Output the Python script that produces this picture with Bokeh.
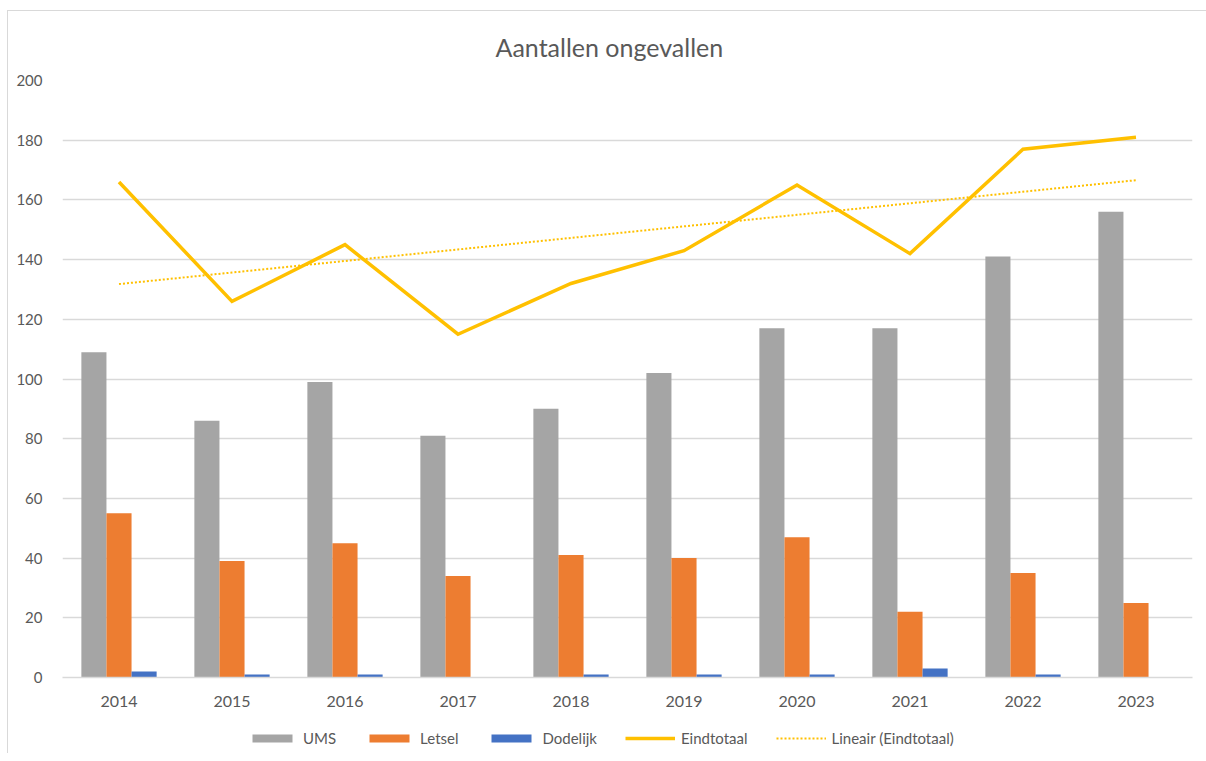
import numpy as np
from bokeh.plotting import figure
from bokeh.layouts import column
from bokeh.models import ColumnDataSource, Legend, LegendItem, FixedTicker, Range1d
from bokeh.transform import dodge
from bokeh.embed import file_html
from bokeh.resources import INLINE

years = ["2014", "2015", "2016", "2017", "2018", "2019", "2020", "2021", "2022", "2023"]
ums = [109, 86, 99, 81, 90, 102, 117, 117, 141, 156]
letsel = [55, 39, 45, 34, 41, 40, 47, 22, 35, 25]
dodelijk = [2, 1, 1, 0, 1, 1, 1, 3, 1, 0]
eindtotaal = [166, 126, 145, 115, 132, 143, 165, 142, 177, 181]
y_ticks = [0, 20, 40, 60, 80, 100, 120, 140, 160, 180, 200]
series_names = ["UMS", "Letsel", "Dodelijk", "Eindtotaal", "Lineair (Eindtotaal)"]

# linear trend of Eindtotaal (least squares, as Excel's "Lineair")
xi = np.arange(1, len(years) + 1)
slope, intercept = np.polyfit(xi, eindtotaal, 1)
trend = list(slope * xi + intercept)

src = ColumnDataSource(dict(year=years, ums=ums, letsel=letsel, dodelijk=dodelijk,
                            tot=eindtotaal, trend=trend))

FONT = "Lato"
TXT = "#595959"
C_UMS, C_LET, C_DOD, C_TOT = "#A5A5A5", "#ED7D31", "#4472C4", "#FFC000"

p = figure(x_range=years, y_range=Range1d(0, 200), frame_width=1130, frame_height=597,
           output_backend="svg", toolbar_location=None,
           min_border_left=54, min_border_right=14, min_border_top=69, min_border_bottom=36)

p.title.text = "Aantallen ongevallen"
p.title.align = "left"
p.title.text_font = FONT
p.title.text_font_size = "25px"
p.title.text_font_style = "normal"
p.title.text_color = TXT
p.title.standoff = 37
p.title.offset = 433

p.outline_line_color = None
p.background_fill_color = "white"
p.border_fill_color = "white"

w = 0.222
p.vbar(x=dodge("year", -w, range=p.x_range), top="ums", width=w, source=src,
       fill_color=C_UMS, line_color=None)
p.vbar(x=dodge("year", 0, range=p.x_range), top="letsel", width=w, source=src,
       fill_color=C_LET, line_color=None)
p.vbar(x=dodge("year", w, range=p.x_range), top="dodelijk", width=w, source=src,
       fill_color=C_DOD, line_color=None)
p.line(x="year", y="tot", source=src, line_color=C_TOT, line_width=3.5, line_join="miter")
p.line(x="year", y="trend", source=src, line_color=C_TOT, line_width=2, line_dash="2 2")

p.yaxis.ticker = FixedTicker(ticks=y_ticks)
p.yaxis.axis_line_color = None
p.yaxis.major_tick_line_color = None
p.yaxis.minor_tick_line_color = None
p.yaxis.major_label_standoff = 14
p.yaxis.major_label_text_font = FONT
p.yaxis.major_label_text_font_size = "15px"
p.yaxis.major_label_text_color = TXT

p.xaxis.axis_line_color = "#D9D9D9"
p.xaxis.axis_line_width = 1.5
p.xaxis.major_tick_line_color = None
p.xaxis.minor_tick_line_color = None
p.xaxis.major_label_standoff = 12
p.xaxis.major_label_text_font = FONT
p.xaxis.major_label_text_font_size = "16px"
p.xaxis.major_label_text_color = TXT

p.xgrid.grid_line_color = None
p.ygrid.grid_line_color = "#D9D9D9"
p.ygrid.grid_line_width = 1.5

# legend strip below the chart (same styles as the series above);
# the proxy renderers sit outside the strip's visible range
lg = figure(width=54 + 1130 + 14, height=40, x_range=Range1d(0, 1), y_range=Range1d(0, 1),
            output_backend="svg", toolbar_location=None,
            min_border=0, min_border_left=0, min_border_right=0,
            min_border_top=0, min_border_bottom=0)
lg.axis.visible = False
lg.grid.visible = False
lg.outline_line_color = None
lg.border_fill_color = "white"
off = [-10]
l_ums = lg.vbar(x=off, top=off, width=0.1, fill_color=C_UMS, line_color=None)
l_let = lg.vbar(x=off, top=off, width=0.1, fill_color=C_LET, line_color=None)
l_dod = lg.vbar(x=off, top=off, width=0.1, fill_color=C_DOD, line_color=None)
l_tot = lg.line(x=off, y=off, line_color=C_TOT, line_width=3.5)
l_tr = lg.line(x=off, y=off, line_color=C_TOT, line_width=2, line_dash="2 2")

legend = Legend(items=[LegendItem(label=n, renderers=[r]) for n, r in
                       zip(series_names, [l_ums, l_let, l_dod, l_tot, l_tr])],
                orientation="horizontal", location=(185, 6))
legend.border_line_color = None
legend.background_fill_alpha = 0
legend.glyph_width = 50
legend.glyph_height = 10
legend.label_standoff = 6
legend.spacing = 28
legend.margin = 0
legend.padding = 0
legend.label_text_font = FONT
legend.label_text_font_size = "15px"
legend.label_text_color = TXT
lg.add_layout(legend, "center")

layout = column(p, lg, spacing=0)
layout.styles = {"margin-left": "7px", "margin-top": "10px",
                 "border-left": "1px solid #d9d9d9", "border-top": "1px solid #d9d9d9"}

open("out.html", "w").write(file_html(layout, INLINE))
